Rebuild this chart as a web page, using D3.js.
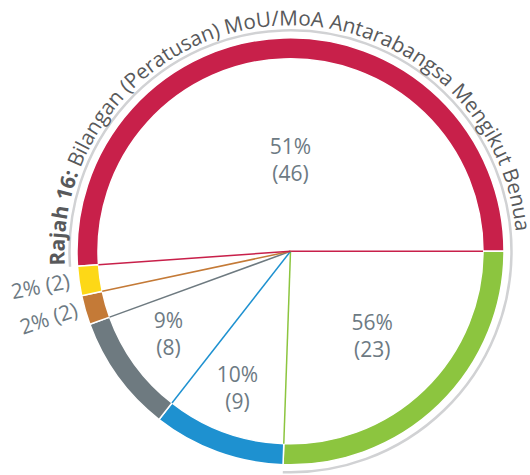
<!DOCTYPE html>
<html>
<head>
<meta charset="utf-8">
<script src="https://cdn.jsdelivr.net/npm/d3@7"></script>
<style>
  body { margin: 0; background: #fff; }
  svg text { font-family: "Open Sans", sans-serif; }
</style>
</head>
<body>
<div id="chart"></div>
<script>
// slices in drawing order (clockwise, red starts just below 9 o'clock)
const counts = [46, 23, 9, 8, 2, 2];
const percents = ['51%', '56%', '10%', '9%', '2%', '2%'];
const colors = ['#c8204a', '#8cc53f', '#1e91d0', '#6e7a80', '#c47a37', '#fdd817'];
// colour of the spoke drawn at the end of each slice
const spokeColors = ['#c8204a', '#8cc53f', '#1e91d0', '#6e7a80', '#c47a37', '#c8204a'];
const titleBold = 'Rajah 16:';
const titleRest = ' Bilangan (Peratusan) MoU/MoA Antarabangsa Mengikut Benua';

const width = 530;
const height = 475;
const cx = 290.5;
const cy = 251.3;
const rInner = 192.5;
const rOuter = 213.5;
const rOutline = 221;
const rTitle = 226;
const textColor = '#6d7a83';
const deg = Math.PI / 180;

// label placement: radius, angle nudge (deg), outside label or not
const labelLayout = [
    { r: 97, nudge: 2 },
    { r: 113.5, nudge: -2 },
    { r: 141.5, nudge: 2 },
    { r: 144, nudge: 4 },
    { r: 251, nudge: 0.5, outside: true },
    { r: 252.6, nudge: 0, outside: true }
];

const svg = d3.select('#chart')
    .append('svg')
    .attr('width', width)
    .attr('height', height);

const defs = svg.append('defs');
const g = svg.append('g').attr('transform', `translate(${cx},${cy})`);

const total = d3.sum(counts);
const start = Math.PI / 2 - 2 * Math.PI * counts[0] / total;

const pie = d3.pie()
    .sort(null)
    .value(d => d)
    .startAngle(start)
    .endAngle(start + 2 * Math.PI);

const arcs = pie(counts);

const arc = d3.arc()
    .innerRadius(rInner)
    .outerRadius(rOuter);

// polar helper, d3 angle convention (0 = up, clockwise)
const polar = (r, a) => [r * Math.sin(a), -r * Math.cos(a)];

// OUTLINE round red + green slices
const outline = d3.path();
outline.arc(0, 0, rOutline, arcs[0].startAngle - Math.PI / 2, arcs[1].endAngle - Math.PI / 2);
g.append('path')
    .attr('d', outline.toString())
    .attr('fill', 'none')
    .attr('stroke', '#d1d2d4')
    .attr('stroke-width', 2.5);

// RING
g.selectAll('.slice')
    .data(arcs)
    .enter()
    .append('path')
    .attr('class', 'slice')
    .attr('d', arc)
    .attr('fill', (d, i) => colors[i])
    .attr('stroke', '#fff')
    .attr('stroke-width', 1.5);

// SPOKES
g.selectAll('.spoke')
    .data(arcs)
    .enter()
    .append('line')
    .attr('class', 'spoke')
    .attr('x1', 0)
    .attr('y1', 0)
    .attr('x2', d => polar(rInner, d.endAngle)[0])
    .attr('y2', d => polar(rInner, d.endAngle)[1])
    .attr('stroke', (d, i) => spokeColors[i])
    .attr('stroke-width', 1.5);

// LABELS
arcs.forEach((d, i) => {
    const lay = labelLayout[i];
    const a = (d.startAngle + d.endAngle) / 2 + lay.nudge * deg;
    const [x, y] = polar(lay.r, a);
    if (lay.outside) {
        const rot = a / deg - 360 * Math.floor(a / deg / 360) - 273;
        g.append('text')
            .attr('transform', `translate(${x},${y}) rotate(${rot})`)
            .attr('text-anchor', 'middle')
            .attr('dy', '0.35em')
            .attr('fill', textColor)
            .attr('font-size', 21)
            .text(`${percents[i]} (${counts[i]})`);
    } else {
        const t = g.append('text')
            .attr('text-anchor', 'middle')
            .attr('fill', textColor)
            .attr('font-size', 21);
        t.append('tspan').attr('x', x).attr('y', y).text(percents[i]);
        t.append('tspan').attr('x', x).attr('y', y + 27).text(`(${counts[i]})`);
    }
});

// TITLE along the top of the circle (path lives in the same frame as g)
const titleArc = d3.path();
const t0 = arcs[0].startAngle + 0.5 * deg;
titleArc.arc(0, 0, rTitle, t0 - Math.PI / 2, t0 + Math.PI * 1.2 - Math.PI / 2);
defs.append('path')
    .attr('id', 'titlePath')
    .attr('d', titleArc.toString());

const title = g.append('text')
    .attr('font-size', 20.7)
    .attr('fill', '#58595b');
const tp = title.append('textPath')
    .attr('href', '#titlePath');
tp.append('tspan').attr('font-weight', 'bold').text(titleBold);
tp.append('tspan').text(titleRest);
</script>
</body>
</html>
